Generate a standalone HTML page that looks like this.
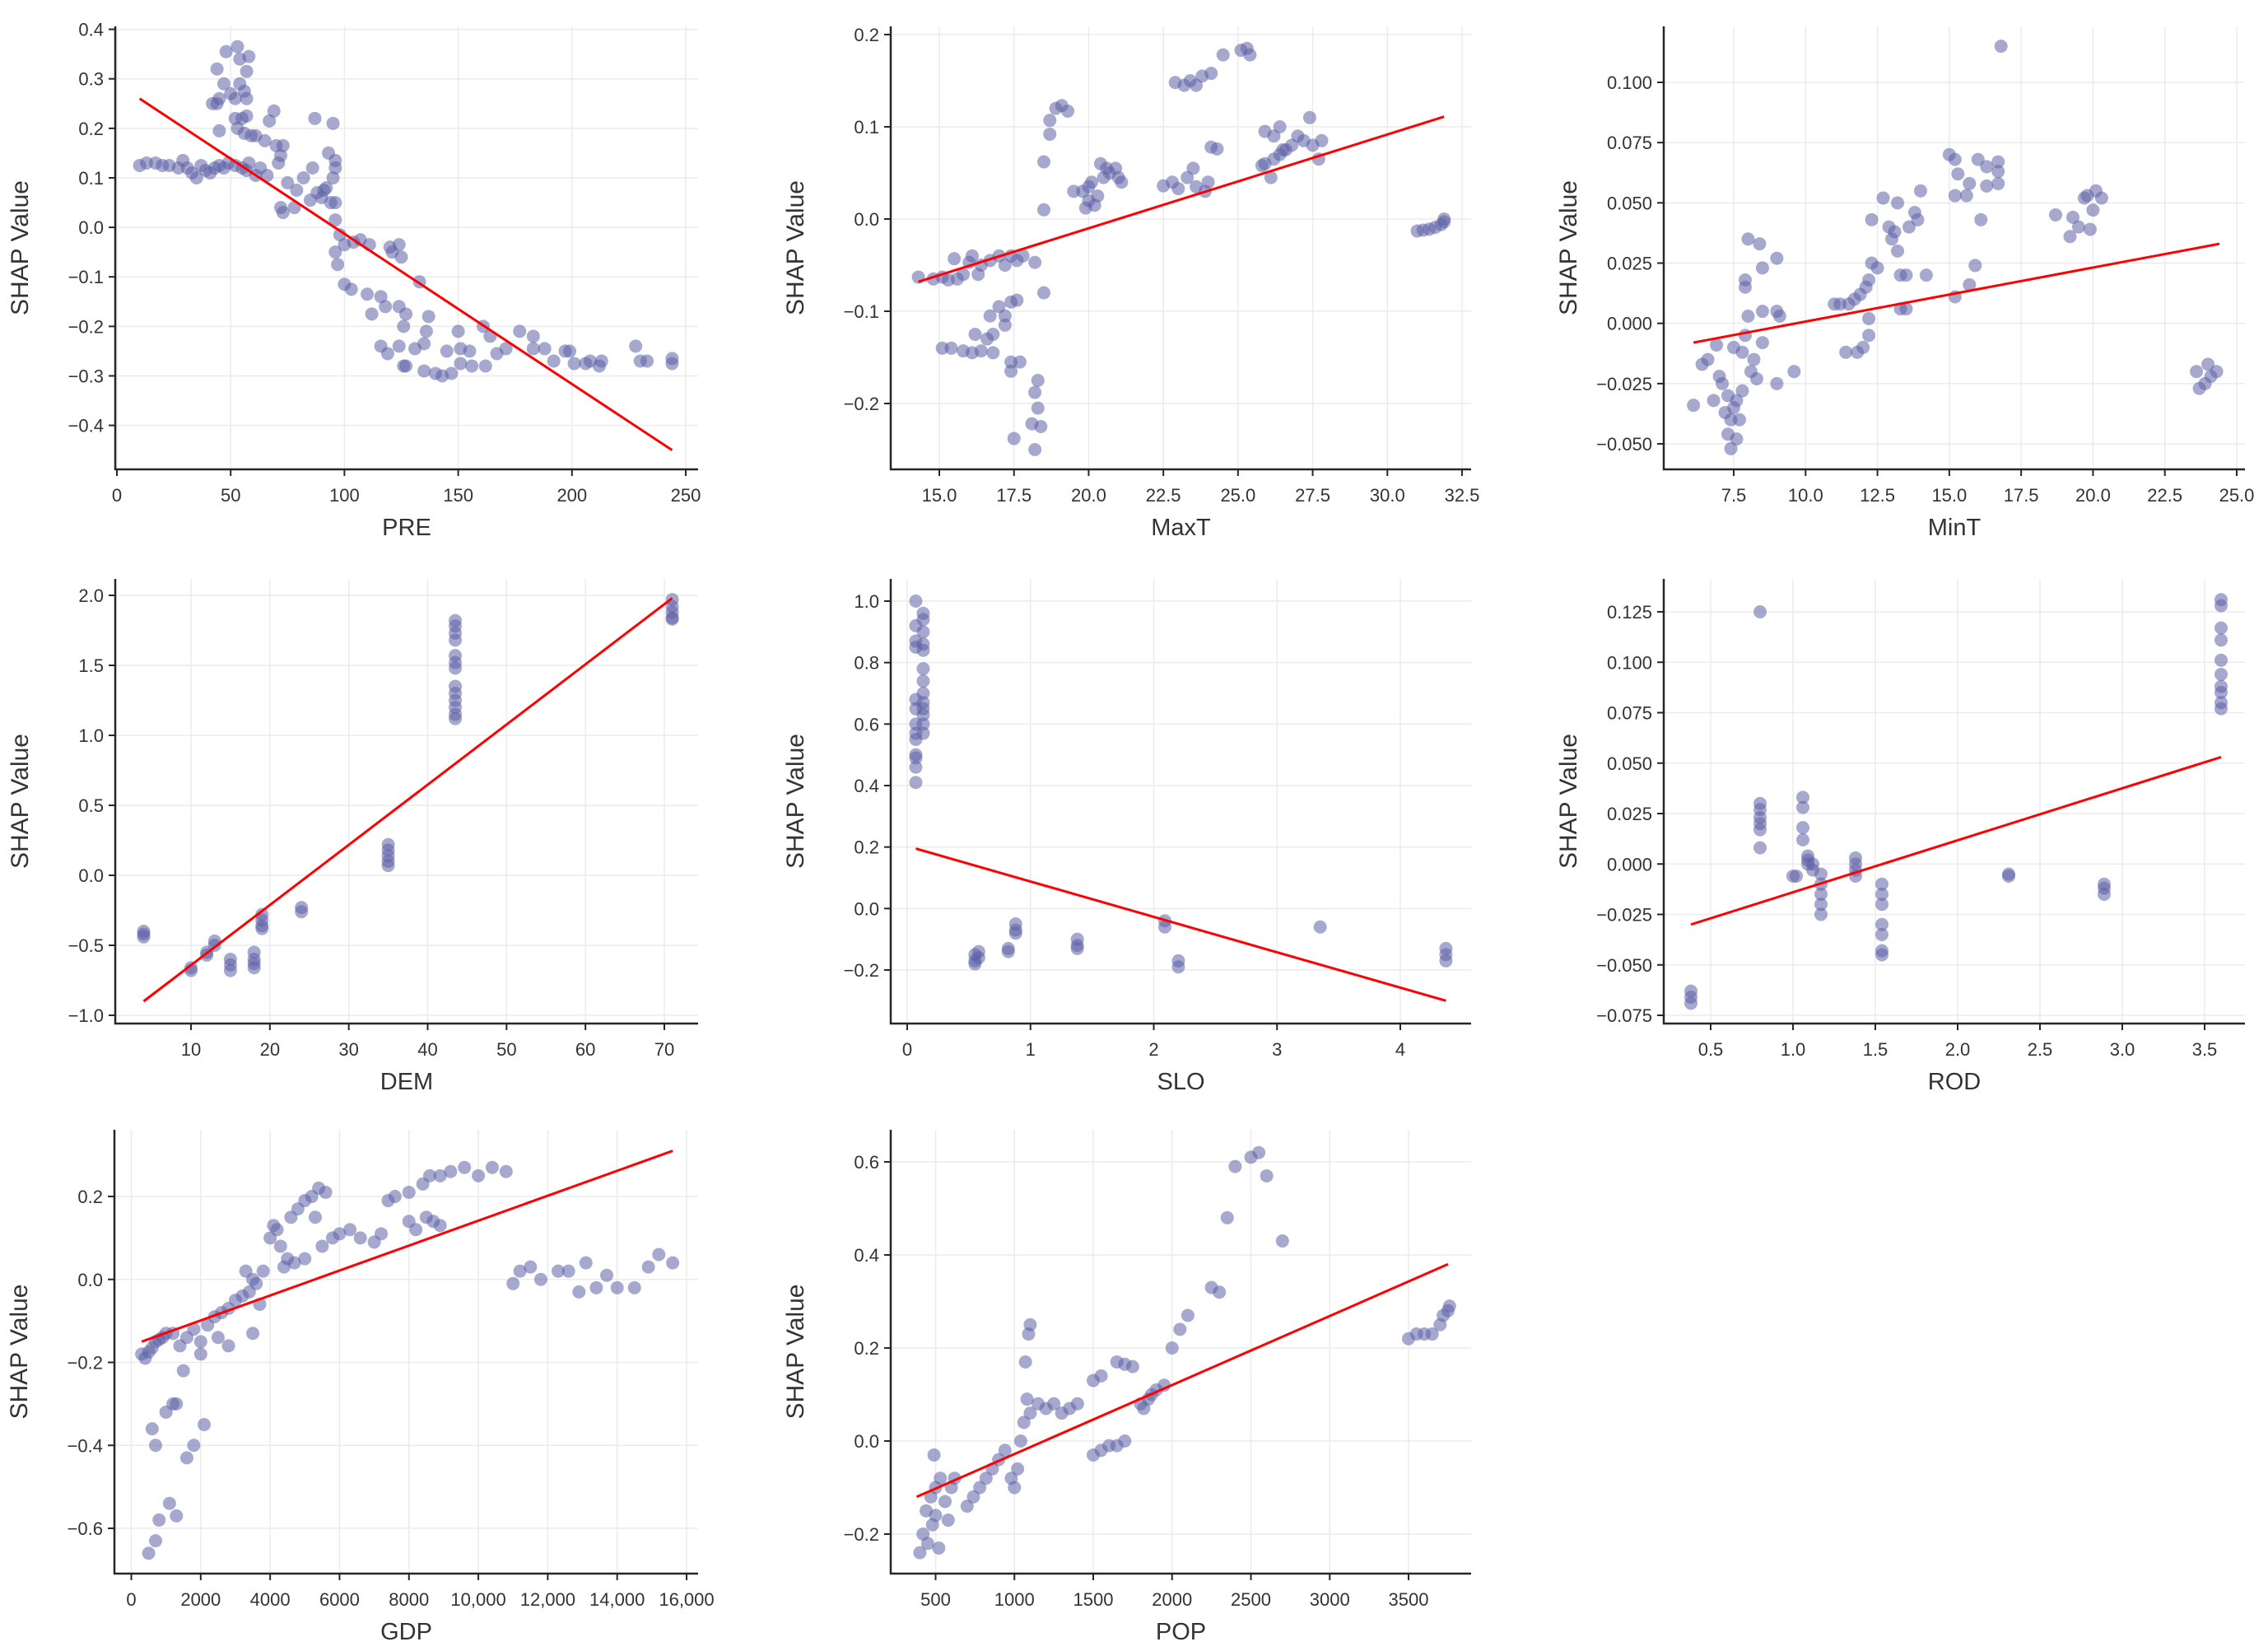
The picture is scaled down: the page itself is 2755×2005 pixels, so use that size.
<!DOCTYPE html>
<html><head><meta charset="utf-8">
<style>
html,body{margin:0;padding:0;background:#fff;}
svg{display:block;}
text{font-family:"Liberation Sans","DejaVu Sans",sans-serif;fill:#333;}
</style></head>
<body>
<svg id="chart" width="2755" height="2005" viewBox="0 0 2755 2005" xmlns="http://www.w3.org/2000/svg"></svg>
<script>
// ---------- data ----------
const preX=[10,13,17,20,23,27,29,31,33,35,37,39,41,43,45,47,49,52,55,57,58,44,48,53,54,58,57,47,54,56,50,45,42,44,52,57,52,55,57,53,45,56,59,61,65,67,69,70,73,72,71,63,61,66,87,95,93,96,96,86,75,79,82,88,90,92,94,96,72,73,78,85,91,95,96,98,96,97,100,104,107,111,120,121,124,125,100,103,110,116,118,112,124,127,126,133,137,136,150,161,164,177,183,116,119,124,126,127,131,135,135,140,143,145,147,151,151,155,156,162,167,171,183,188,192,197,199,201,206,208,212,213,228,230,233,244,244];
const preY=[.125,.13,.13,.125,.125,.12,.135,.12,.11,.10,.125,.115,.11,.12,.125,.12,.13,.125,.12,.115,.13,.32,.355,.365,.34,.345,.315,.29,.29,.275,.27,.26,.25,.25,.26,.26,.22,.22,.225,.20,.195,.19,.185,.185,.175,.215,.235,.165,.165,.145,.13,.12,.105,.105,.22,.21,.15,.135,.12,.12,.09,.075,.1,.07,.06,.08,.05,.05,.04,.03,.04,.055,.075,.1,.015,-.015,-.05,-.075,-.035,-.03,-.025,-.035,-.04,-.05,-.035,-.06,-.115,-.125,-.135,-.14,-.16,-.175,-.16,-.175,-.2,-.11,-.18,-.21,-.21,-.2,-.22,-.21,-.22,-.24,-.255,-.24,-.28,-.28,-.245,-.235,-.29,-.295,-.3,-.25,-.295,-.245,-.275,-.25,-.28,-.28,-.255,-.245,-.245,-.245,-.27,-.25,-.25,-.275,-.275,-.27,-.28,-.27,-.24,-.27,-.27,-.265,-.275];
const preLineX=[10,244], preLineY=[.26,-.45];

const maxtX=[14.3,14.8,15.1,15.3,15.5,15.6,15.8,16,16.1,16.3,16.4,16.7,17,17.2,17.4,17.6,17.8,18.2,18.5,18.5,18.5,18.7,18.7,18.9,19.1,19.3,15.1,15.4,15.8,16.1,16.2,16.4,16.6,16.8,16.8,16.7,17.0,17.2,17.2,17.4,17.6,17.4,17.4,17.7,17.5,18.3,18.2,18.3,18.1,18.4,18.2,19.5,19.8,20,20,20.1,20.2,20.3,19.9,20.4,20.5,20.7,20.9,21,21.1,20.6,22.5,22.8,23,23.3,23.5,23.6,24,23.9,24.1,24.3,22.9,23.2,23.4,23.6,23.8,24.1,24.5,25.1,25.3,25.4,25.8,25.9,26.1,26.2,26.4,26.6,26.8,27,27.2,27.5,27.7,27.8,27.4,26.4,25.9,26.2,26.5,31,31.2,31.4,31.6,31.8,31.9,31.9];
const maxtY=[-.063,-.065,-.063,-.066,-.043,-.065,-.06,-.047,-.04,-.06,-.05,-.045,-.04,-.05,-.04,-.045,-.04,-.047,-.08,.01,.062,.092,.107,.12,.123,.117,-.14,-.14,-.143,-.145,-.125,-.143,-.13,-.125,-.145,-.105,-.095,-.105,-.115,-.09,-.088,-.155,-.165,-.155,-.238,-.175,-.188,-.205,-.222,-.225,-.25,.03,.03,.02,.035,.04,.015,.025,.012,.06,.045,.05,.055,.045,.04,.055,.036,.04,.033,.045,.055,.035,.04,.03,.078,.076,.148,.145,.15,.145,.155,.158,.178,.183,.185,.178,.058,.06,.045,.065,.07,.075,.08,.09,.085,.08,.065,.085,.11,.1,.095,.09,.075,-.013,-.012,-.011,-.009,-.006,0,-.003];
const maxtLineX=[14.3,31.9], maxtLineY=[-.068,.111];

const mintX=[6.1,6.4,6.6,6.8,6.9,7,7.1,7.2,7.3,7.3,7.4,7.4,7.5,7.6,7.6,7.7,7.8,7.5,7.8,7.9,7.9,7.9,8,8,8.1,8.2,8.3,8.4,8.5,8.5,8.5,9,9,9.1,9,9.6,11,11.2,11.4,11.5,11.7,11.8,11.9,12,12.1,12.2,12.2,12.3,12.2,12.3,12.5,12.7,12.9,13,13.1,13.2,13.2,13.3,13.3,13.5,13.5,13.6,13.8,13.9,14,14.2,15,15.2,15.2,15.3,15.6,15.7,16,16.1,16.3,16.3,16.7,16.7,16.7,16.8,15.2,15.7,15.9,18.7,19.2,19.3,19.5,19.8,19.9,20,20.1,20.3,19.7,23.6,23.7,23.9,24,24.1,24.3];
const mintY=[-.034,-.017,-.015,-.032,-.009,-.022,-.025,-.037,-.03,-.046,-.052,-.04,-.035,-.032,-.048,-.04,-.028,-.01,-.012,-.005,.018,.015,.035,.003,-.02,-.015,-.023,.033,.023,.005,-.008,.027,.005,.003,-.025,-.02,.008,.008,-.012,.008,.01,-.012,.012,-.01,.015,-.005,.018,.025,.002,.043,.023,.052,.04,.035,.038,.05,.03,.02,.006,.006,.02,.04,.046,.043,.055,.02,.07,.068,.053,.062,.053,.058,.068,.043,.065,.057,.067,.063,.058,.115,.011,.016,.024,.045,.036,.044,.04,.053,.039,.047,.055,.052,.052,-.02,-.027,-.025,-.017,-.022,-.02];
const mintLineX=[6.1,24.4], mintLineY=[-.008,.033];

const demX=[4,4,4,10,10,12,12,13,13,15,15,15,18,18,18,18,19,19,19,19,24,24,35,35,35,35,35,43.5,43.5,43.5,43.5,43.5,43.5,43.5,43.5,43.5,43.5,43.5,43.5,43.5,71,71,71,71,71];
const demY=[-.4,-.42,-.44,-.66,-.68,-.55,-.57,-.47,-.5,-.6,-.64,-.68,-.55,-.6,-.63,-.66,-.28,-.32,-.36,-.38,-.23,-.26,.22,.18,.14,.1,.07,1.82,1.78,1.73,1.68,1.57,1.52,1.48,1.35,1.3,1.25,1.2,1.15,1.12,1.97,1.92,1.88,1.84,1.83];
const demLineX=[4,71], demLineY=[-.9,1.98];

const sloX=[.07,.07,.07,.07,.07,.07,.07,.07,.07,.07,.07,.07,.07,.13,.13,.13,.13,.13,.13,.13,.13,.13,.13,.13,.13,.13,.55,.55,.55,.58,.58,.82,.82,.88,.88,.88,1.38,1.38,1.38,2.09,2.09,2.2,2.2,3.35,4.37,4.37,4.37];
const sloY=[1.0,.92,.87,.85,.68,.65,.6,.57,.55,.5,.49,.46,.41,.96,.94,.9,.86,.84,.78,.74,.7,.67,.65,.63,.6,.57,-.15,-.17,-.18,-.14,-.16,-.13,-.14,-.05,-.07,-.08,-.1,-.12,-.13,-.04,-.06,-.17,-.19,-.06,-.13,-.15,-.17];
const sloLineX=[.07,4.37], sloLineY=[.195,-.3];

const rodX=[.38,.38,.38,.8,.8,.8,.8,.8,.8,.8,1.0,1.02,1.06,1.06,1.06,1.06,1.09,1.09,1.09,1.12,1.12,1.17,1.17,1.17,1.17,1.17,1.38,1.38,1.38,1.38,1.54,1.54,1.54,1.54,1.54,1.54,1.54,2.31,2.31,2.89,2.89,2.89,3.6,3.6,3.6,3.6,3.6,3.6,3.6,3.6,3.6,3.6];
const rodY=[-.063,-.066,-.069,.125,.03,.027,.023,.02,.017,.008,-.006,-.006,.033,.028,.018,.012,.004,0,.002,-.003,0,-.005,-.01,-.015,-.02,-.025,.003,0,-.003,-.006,-.01,-.015,-.02,-.03,-.035,-.043,-.045,-.005,-.006,-.01,-.012,-.015,.131,.128,.117,.111,.101,.094,.088,.085,.08,.077];
const rodLineX=[.38,3.6], rodLineY=[-.03,.053];

const gdpX=[300,400,500,600,700,800,900,1000,1200,1400,1600,1800,2000,2200,2400,2600,2800,3000,3200,3400,3600,3300,3500,3800,3700,3500,2800,2500,2000,4000,4100,4300,4500,4600,4800,5000,5200,5400,5600,5300,5500,5000,4700,4400,4200,5800,6000,6300,6600,7000,7200,7400,7600,8000,8200,8500,8700,8900,8000,8400,8600,8900,9200,9600,10000,10400,10800,11000,11200,11500,11800,12300,12600,12900,13100,13400,13700,14000,14500,14900,15200,15600,600,700,1000,1200,1300,1600,1800,2100,1100,1300,800,700,500,1500];
const gdpY=[-.18,-.19,-.175,-.165,-.15,-.145,-.14,-.13,-.13,-.16,-.14,-.12,-.15,-.11,-.09,-.08,-.07,-.05,-.04,-.03,-.01,.02,0,.02,-.06,-.13,-.16,-.14,-.18,.1,.13,.08,.05,.15,.17,.19,.2,.22,.21,.15,.08,.05,.04,.03,.12,.1,.11,.12,.1,.09,.11,.19,.2,.14,.12,.15,.14,.13,.21,.23,.25,.25,.26,.27,.25,.27,.26,-.01,.02,.03,0,.02,.02,-.03,.04,-.02,.01,-.02,-.02,.03,.06,.04,-.36,-.4,-.32,-.3,-.3,-.43,-.4,-.35,-.54,-.57,-.58,-.63,-.66,-.22];
const gdpLineX=[300,15600], gdpLineY=[-.15,.31];

const popX=[400,420,450,480,500,520,440,470,500,530,560,580,600,620,490,700,740,780,820,860,900,940,980,1000,1020,1040,1060,1080,1100,1150,1200,1250,1300,1350,1400,1070,1090,1100,1500,1550,1600,1650,1700,1800,1820,1850,1870,1900,1950,1500,1550,1650,1700,1750,2000,2050,2100,2250,2300,2350,2400,2500,2550,2600,2700,3500,3550,3600,3650,3700,3720,3750,3760];
const popY=[-.24,-.2,-.22,-.18,-.16,-.23,-.15,-.12,-.1,-.08,-.13,-.17,-.1,-.08,-.03,-.14,-.12,-.1,-.08,-.06,-.04,-.02,-.08,-.1,-.06,0,.04,.09,.06,.08,.07,.08,.06,.07,.08,.17,.23,.25,-.03,-.02,-.01,-.01,0,.08,.07,.09,.1,.11,.12,.13,.14,.17,.165,.16,.2,.24,.27,.33,.32,.48,.59,.61,.62,.57,.43,.22,.23,.23,.23,.25,.27,.28,.29];
const popLineX=[380,3750], popLineY=[-.12,.38];

// tick labels
const preXTicks=[0,50,100,150,200,250], preYTicks=[0.4,0.3,0.2,0.1,0.0,-0.1,-0.2,-0.3,-0.4];
const maxtXTicks=[15,17.5,20,22.5,25,27.5,30,32.5], maxtYTicks=[0.2,0.1,0.0,-0.1,-0.2];
const mintXTicks=[7.5,10,12.5,15,17.5,20,22.5,25], mintYTicks=[0.1,0.075,0.05,0.025,0,-0.025,-0.05];
const demXTicks=[10,20,30,40,50,60,70], demYTicks=[2,1.5,1,0.5,0,-0.5,-1];
const sloXTicks=[0,1,2,3,4], sloYTicks=[1,0.8,0.6,0.4,0.2,0,-0.2];
const rodXTicks=[0.5,1,1.5,2,2.5,3,3.5], rodYTicks=[0.125,0.1,0.075,0.05,0.025,0,-0.025,-0.05,-0.075];
const gdpXTicks=[0,2000,4000,6000,8000,10000,12000,14000,16000], gdpYTicks=[0.2,0,-0.2,-0.4,-0.6];
const popXTicks=[500,1000,1500,2000,2500,3000,3500], popYTicks=[0.6,0.4,0.2,0,-0.2];

// ---------- rendering ----------
const NS='http://www.w3.org/2000/svg';
const svg=document.getElementById('chart');
function mk(tag,attrs,parent){const e=document.createElementNS(NS,tag);for(const k in attrs)e.setAttribute(k,attrs[k]);(parent||svg).appendChild(e);return e;}
function lin(d0,d1,r0,r1){return v=>r0+(v-d0)*(r1-r0)/(d1-d0);}

// layout: box and two anchor ticks (data value -> pixel) per axis
const panels=[
 {key:'pre',label:'PRE',box:[140,32,848,570],xa:[0,142,250,833],ya:[0.4,35.6,-0.4,516.6],x:preX,y:preY,lx:preLineX,ly:preLineY,xt:preXTicks,yt:preYTicks,xf:v=>String(v),yf:v=>fmt(v,1)},
 {key:'maxt',label:'MaxT',box:[1082,32,1787,570],xa:[15,1141,32.5,1776],ya:[0.2,42,-0.2,490],x:maxtX,y:maxtY,lx:maxtLineX,ly:maxtLineY,xt:maxtXTicks,yt:maxtYTicks,xf:v=>fmt(v,1),yf:v=>fmt(v,1)},
 {key:'mint',label:'MinT',box:[2021,32,2727,570],xa:[7.5,2106,25,2717],ya:[0.1,100,-0.05,539],x:mintX,y:mintY,lx:mintLineX,ly:mintLineY,xt:mintXTicks,yt:mintYTicks,xf:v=>fmt(v,1),yf:v=>fmt(v,3)},
 {key:'dem',label:'DEM',box:[140,703,848,1243],xa:[10,232,70,807],ya:[2,723,-1,1233],x:demX,y:demY,lx:demLineX,ly:demLineY,xt:demXTicks,yt:demYTicks,xf:v=>String(v),yf:v=>fmt(v,1)},
 {key:'slo',label:'SLO',box:[1082,703,1787,1243],xa:[0,1102,4,1701],ya:[1,730,-0.2,1178],x:sloX,y:sloY,lx:sloLineX,ly:sloLineY,xt:sloXTicks,yt:sloYTicks,xf:v=>String(v),yf:v=>fmt(v,1)},
 {key:'rod',label:'ROD',box:[2021,703,2727,1243],xa:[0.5,2078,3.5,2678],ya:[0.125,743,-0.075,1233],x:rodX,y:rodY,lx:rodLineX,ly:rodLineY,xt:rodXTicks,yt:rodYTicks,xf:v=>fmt(v,1),yf:v=>fmt(v,3)},
 {key:'gdp',label:'GDP',box:[139,1372,848,1911],xa:[0,159.5,16000,834],ya:[0.2,1453,-0.6,1856],x:gdpX,y:gdpY,lx:gdpLineX,ly:gdpLineY,xt:gdpXTicks,yt:gdpYTicks,xf:v=>v>=10000?v.toLocaleString('en-US'):String(v),yf:v=>fmt(v,1)},
 {key:'pop',label:'POP',box:[1082,1372,1787,1911],xa:[500,1136.5,3500,1711],ya:[0.6,1411,-0.2,1863],x:popX,y:popY,lx:popLineX,ly:popLineY,xt:popXTicks,yt:popYTicks,xf:v=>String(v),yf:v=>fmt(v,1)}
];
function fmt(v,d){const s=Math.abs(v).toFixed(d);return (v<-1e-9?'\u2212':'')+s;}

panels.forEach(p=>{
  const [L,T,R,B]=p.box;
  const sx=lin(p.xa[0],p.xa[2],p.xa[1],p.xa[3]);
  const sy=lin(p.ya[0],p.ya[2],p.ya[1],p.ya[3]);
  const g=mk('g',{});
  
  
  // grid
  p.xt.forEach(t=>{const x=sx(t);if(x<L-1||x>R+1)return;const l=mk('line',{x1:x,x2:x,y1:T,y2:B,stroke:'#ebebeb','stroke-width':1.5},g);});
  p.yt.forEach(t=>{const y=sy(t);const l=mk('line',{x1:L,x2:R,y1:y,y2:y,stroke:'#ebebeb','stroke-width':1.5},g);});
  // points
  const pts=mk('g',{},g);
  
  
  for(let i=0;i<p.x.length;i++){
    const c=mk('circle',{cx:sx(p.x[i]),cy:sy(p.y[i]),r:8,fill:'rgb(92,96,166)','fill-opacity':0.55},pts);
    
    
  }
  // trend line
  const tl=mk('line',{x1:sx(p.lx[0]),y1:sy(p.ly[0]),x2:sx(p.lx[1]),y2:sy(p.ly[1]),stroke:'#ff0000','stroke-width':3},g);
  
  
  // spines
  const sp=mk('path',{d:`M${L},${T} L${L},${B} L${R},${B}`,fill:'none',stroke:'#262626','stroke-width':2.5},g);
  
  
  // x ticks
  p.xt.forEach(t=>{const x=sx(t);
    const tk=mk('line',{x1:x,x2:x,y1:B,y2:B+8,stroke:'#262626','stroke-width':2},g);
    
    
    const tx=mk('text',{x:x,y:B+39,'font-size':22,'text-anchor':'middle'},g);
    tx.textContent=p.xf(t);
    
    
  });
  p.yt.forEach(t=>{const y=sy(t);
    const tk=mk('line',{x1:L-8,x2:L,y1:y,y2:y,stroke:'#262626','stroke-width':2},g);
    
    
    const tx=mk('text',{x:L-14,y:y+8,'font-size':22,'text-anchor':'end'},g);
    tx.textContent=p.yf(t);
    
    
  });
  const xl=mk('text',{x:(L+R)/2,y:B+80,'font-size':29,'text-anchor':'middle'},g);
  xl.textContent=p.label;
  
  
  const yc=(T+B)/2, xc=L-116;
  const yl=mk('text',{x:xc,y:yc,'font-size':30,'text-anchor':'middle',transform:`rotate(-90 ${xc} ${yc})`,dy:10},g);
  yl.textContent='SHAP Value';
  
  
});
</script>
</body></html>
